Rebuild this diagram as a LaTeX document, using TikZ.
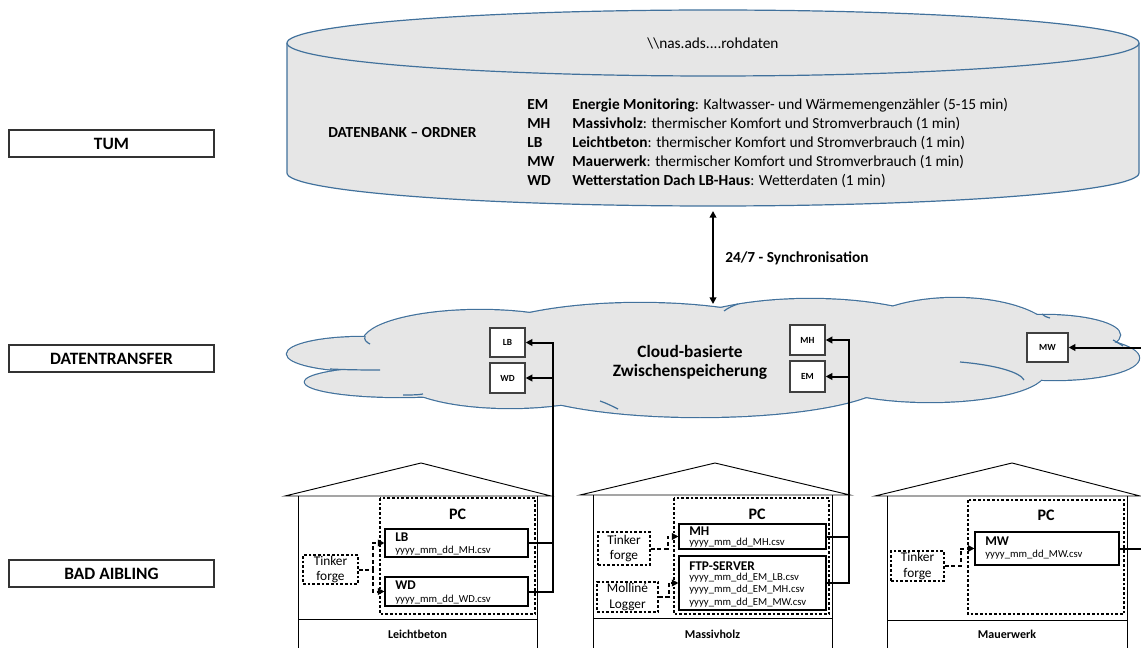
\documentclass[tikz,border=0pt]{standalone}
\usepackage{fontspec}
\setmainfont{Carlito}
\usetikzlibrary{arrows.meta}
\definecolor{dbfill}{RGB}{230,230,230}
\definecolor{dbline}{RGB}{65,113,156}
\begin{document}
\begin{tikzpicture}[x=0.75pt,y=-0.75pt,
  lab/.style={draw=black!80, line width=0.9pt, minimum width=153.75pt, minimum height=20.25pt, inner sep=0pt, font=\fontsize{13}{15}\selectfont\bfseries},
  cbox/.style={draw=black!75, fill=white, line width=1pt, inner sep=0pt, font=\fontsize{7}{8}\selectfont\bfseries},
  filebox/.style={draw=black, fill=white, line width=0.8pt, inner sep=0pt},
  srcbox/.style={draw=black, line width=0.8pt, dash pattern=on 2pt off 1.5pt, inner sep=0pt, align=center, font=\fontsize{10}{11.5}\selectfont},
  pcbox/.style={draw=black, line width=0.8pt, dash pattern=on 2pt off 1.5pt},
  conn/.style={line width=1.5pt, -{Triangle[length=5pt,width=5pt]}},
  dconn/.style={conn, dash pattern=on 3pt off 2pt},
  ftitle/.style={anchor=west, inner sep=0pt, font=\fontsize{10}{11}\selectfont\bfseries},
  fname/.style={anchor=west, inner sep=0pt, font=\fontsize{8}{9}\selectfont},
  house/.style={line width=0.7pt, draw=black},
  dbtext/.style={anchor=west, inner sep=0pt, font=\fontsize{11.5}{13}\selectfont},
  cloudarc/.style={dbline, line width=0.9pt},
]
\useasboundingbox (0,0) rectangle (1141,648);

% ---------- left labels
\node[lab] (tum) at (111.5,143.5) {TUM};
\node[lab] (dt) at (111.5,358.5) {DATENTRANSFER};
\node[lab] (ba) at (111.5,573.5) {BAD AIBLING};

% ---------- database cylinder
\path[fill=dbfill] (287,43) -- (287,173) arc[start angle=180, end angle=0, x radius=426, y radius=33] -- (1139,43) -- cycle;
\draw[dbline, line width=0.9pt] (287,43) -- (287,173) arc[start angle=180, end angle=0, x radius=426, y radius=33] -- (1139,43);
\draw[dbline, line width=0.9pt, fill=dbfill] (713,43) ellipse[x radius=426, y radius=33];
\node[inner sep=0pt, font=\fontsize{11.5}{13}\selectfont] (nas) at (713,44) {\textbackslash\textbackslash nas.ads....rohdaten};
\node[dbtext, font=\fontsize{11.5}{13}\selectfont\bfseries] (dbo) at (328,133) {DATENBANK -- ORDNER};
\node[dbtext, font=\fontsize{11.5}{13}\selectfont\bfseries] (aEM) at (527,105) {EM};
\node[dbtext, font=\fontsize{11.5}{13}\selectfont\bfseries] (aMH) at (527,124) {MH};
\node[dbtext, font=\fontsize{11.5}{13}\selectfont\bfseries] (aLB) at (527,143) {LB};
\node[dbtext, font=\fontsize{11.5}{13}\selectfont\bfseries] (aMW) at (527,162) {MW};
\node[dbtext, font=\fontsize{11.5}{13}\selectfont\bfseries] (aWD) at (527,181) {WD};
\node[dbtext] (dEM) at (572,105) {\textbf{Energie Monitoring}: Kaltwasser- und Wärmemengenzähler (5-15 min)};
\node[dbtext] (dMH) at (572,124) {\textbf{Massivholz}: thermischer Komfort und Stromverbrauch (1 min)};
\node[dbtext] (dLB) at (572,143) {\textbf{Leichtbeton}: thermischer Komfort und Stromverbrauch (1 min)};
\node[dbtext] (dMW) at (572,162) {\textbf{Mauerwerk}: thermischer Komfort und Stromverbrauch (1 min)};
\node[dbtext] (dWD) at (572,181) {\textbf{Wetterstation Dach LB-Haus}: Wetterdaten (1 min)};

% ---------- cloud
\foreach \cx/\cy/\rx/\ry in {362/354/75/17, 400/382/95/15, 480/342/117/32, 640/345/170/42, 810/345/150/46, 955/338/100/40, 1045/335/75/20, 1055/358/84/22, 700/378/190/39, 930/372/115/30, 510/378/110/30}
  {\draw[dbline, line width=1.8pt] (\cx,\cy) ellipse[x radius=\rx, y radius=\ry];}
\foreach \cx/\cy/\rx/\ry in {362/354/75/17, 400/382/95/15, 480/342/117/32, 640/345/170/42, 810/345/150/46, 955/338/100/40, 1045/335/75/20, 1055/358/84/22, 700/378/190/39, 930/372/115/30, 510/378/110/30}
  {\fill[dbfill] (\cx,\cy) ellipse[x radius=\rx, y radius=\ry];}
% interior arcs of the cloud
\draw[cloudarc] (365,336) .. controls (364,340) and (366,342) .. (370,344);
\draw[cloudarc] (330,369) .. controls (350,370) and (370,370) .. (380,370);
\draw[cloudarc] (403,395) .. controls (410,395) and (418,395) .. (423,394);
\draw[cloudarc] (600,401) .. controls (606,403) and (612,406) .. (618,409);
\draw[cloudarc] (724,311) .. controls (728,308) and (732,306) .. (738,304);
\draw[cloudarc] (960,362) .. controls (995,365) and (1020,372) .. (1024,380);
\draw[cloudarc] (1042,314) .. controls (1044,316) and (1046,317) .. (1050,318);
\draw[cloudarc] (1113,340) .. controls (1117,342) and (1120,344) .. (1123,346);
\node[align=center, inner sep=0pt, font=\fontsize{13}{14.25}\selectfont\bfseries] (cl) at (690,362) {Cloud-basierte\\Zwischenspeicherung};

% sync arrow
\coordinate (dbbot) at (713,211);
\coordinate (cltop) at (713,304);
\draw[line width=1.5pt, {Triangle[length=5pt,width=5pt]}-{Triangle[length=5pt,width=5pt]}] (dbbot) -- (cltop);
\node[anchor=west, inner sep=0pt, font=\fontsize{11.5}{13}\selectfont\bfseries] (sync) at (725,258) {24/7 - Synchronisation};

% cloud boxes
\node[cbox, minimum width=26.25pt, minimum height=21.75pt] (cLB) at (507.5,342.5) {LB};
\node[cbox, minimum width=26.25pt, minimum height=22.5pt] (cWD) at (507.5,378) {WD};
\node[cbox, minimum width=26.25pt, minimum height=22.5pt] (cMH) at (807.5,340) {MH};
\node[cbox, minimum width=26.25pt, minimum height=23.25pt] (cEM) at (807.5,376.5) {EM};
\node[cbox, minimum width=30.75pt, minimum height=21.75pt] (cMW) at (1047.5,347.5) {MW};

% ---------- house Leichtbeton
\draw[house] (285,496) -- (421,463) -- (551,496) -- cycle;
\draw[house] (298,496) -- (298,650) (537,496) -- (537,650) (298,619) -- (537,619);
\node[inner sep=0pt, font=\fontsize{9}{10}\selectfont\bfseries] (hLB) at (417.5,634) {Leichtbeton};
\draw[pcbox] (380,498) rectangle (535,614);
\node[inner sep=0pt, font=\fontsize{12}{13}\selectfont\bfseries] (pc1) at (457.5,514) {PC};
\node[filebox, minimum width=107.25pt, minimum height=21pt] (lbf) at (456.5,543) {};
\node[ftitle] at (395,537) {LB};
\node[fname] at (395,551) {yyyy\_mm\_dd\_MH.csv};
\node[filebox, minimum width=107.25pt, minimum height=21.75pt] (wdf) at (456.5,591.5) {};
\node[ftitle] at (395,585) {WD};
\node[fname] at (395,600) {yyyy\_mm\_dd\_WD.csv};
\node[srcbox, minimum width=41.25pt, minimum height=21.75pt] (tk1) at (330.5,569.5) {Tinker\\forge};
\draw[dconn] (tk1.east) -- ++(14,0) |- (lbf.west);
\draw[dconn] (tk1.east) -- ++(14,0) |- (wdf.west);
\draw[conn] (lbf.east) -- ++(24,0) |- (cLB.east);
\draw[conn] (wdf.east) -- ++(24,0) |- (cWD.east);

% ---------- house Massivholz
\draw[house] (580,495) -- (715,463) -- (850,495) -- cycle;
\draw[house] (593,495) -- (593,650) (832,495) -- (832,650) (593,618) -- (832,618);
\node[inner sep=0pt, font=\fontsize{9}{10}\selectfont\bfseries] (hMH) at (712.5,634) {Massivholz};
\draw[pcbox] (674,498) rectangle (829,614);
\node[inner sep=0pt, font=\fontsize{12}{13}\selectfont\bfseries] (pc2) at (757,514) {PC};
\node[filebox, minimum width=110.25pt, minimum height=18.75pt] (mhf) at (752.5,536.5) {};
\node[ftitle] at (689,531) {MH};
\node[fname] at (689,543) {yyyy\_mm\_dd\_MH.csv};
\node[filebox, minimum width=110.25pt, minimum height=40.5pt] (ftp) at (752.5,583) {};
\node[ftitle] at (689,566) {FTP-SERVER};
\node[fname] at (689,578) {yyyy\_mm\_dd\_EM\_LB.csv};
\node[fname] at (689,590) {yyyy\_mm\_dd\_EM\_MH.csv};
\node[fname] at (689,603) {yyyy\_mm\_dd\_EM\_MW.csv};
\node[srcbox, minimum width=39pt, minimum height=24.75pt] (tk2) at (624,548.5) {Tinker\\forge};
\node[srcbox, minimum width=45.75pt, minimum height=22.5pt] (mol) at (627.5,597) {Molliné\\Logger};
\draw[dconn] (tk2.east) -- ++(17,0) |- (mhf.west);
\draw[dconn] (mol.east) -- ++(10,0) |- (ftp.west);
\draw[conn] (mhf.east) -- ++(22,0) |- (cMH.east);
\draw[conn] (ftp.east) -- ++(22,0) |- (cEM.east);

% ---------- house Mauerwerk
\draw[house] (875,496) -- (1012,463) -- (1140,496) -- cycle;
\draw[house] (887,496) -- (887,650) (1127,496) -- (1127,650) (887,620) -- (1127,620);
\node[inner sep=0pt, font=\fontsize{9}{10}\selectfont\bfseries] (hMW) at (1007,634) {Mauerwerk};
\draw[pcbox] (968,500) rectangle (1124,614);
\node[inner sep=0pt, font=\fontsize{12}{13}\selectfont\bfseries] (pc3) at (1046,515) {PC};
\node[filebox, minimum width=108pt, minimum height=24.75pt] (mwf) at (1047,548.5) {};
\node[ftitle] at (985,541) {MW};
\node[fname] at (985,555) {yyyy\_mm\_dd\_MW.csv};
\node[srcbox, minimum width=39.75pt, minimum height=22.5pt] (tk3) at (917.5,566) {Tinker\\forge};
\draw[dconn] (tk3.east) -- ++(16,0) |- (mwf.west);
\coordinate (offr) at (1160,548.5);
\draw[conn] (mwf.east) -- (offr) |- (cMW.east);
\end{tikzpicture}
\end{document}
